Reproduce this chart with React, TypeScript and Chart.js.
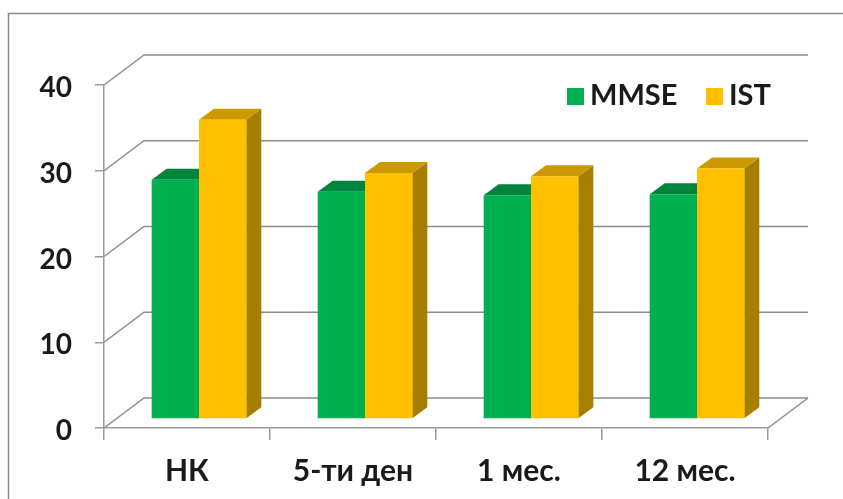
import React, { useEffect, useRef } from "react";
import { Chart, registerables } from "chart.js";

Chart.register(...registerables);

const categories = ["НК", "5-ти ден", "1 мес.", "12 мес."];
const mmseValues = [27.9, 26.5, 26.1, 26.2];
const istValues = [34.9, 28.7, 28.3, 29.2];
const seriesLabels = ["MMSE", "IST"];
const yTicks = [0, 10, 20, 30, 40];

const FRONT = ["#00B050", "#FFC000"];
const TOP = ["#00853D", "#CC9A00"];
const SIDE = ["#00703A", "#A67F00"];

const FONT = "Lato";
const WALL_DX = 40;
const WALL_DY = -30;
const BAR_DX = 12;
const BAR_DY = -9;
const FACE_DX = 15;
const FACE_DY = -11;
const GRID = "#8c8c8c";

const scenePlugin = {
  id: "scene3d",
  beforeDraw(chart: any) {
    const ctx = chart.ctx;
    const { left, right, bottom } = chart.chartArea;
    const y = chart.scales.y;
    ctx.save();
    ctx.fillStyle = "#ffffff";
    ctx.fillRect(0, 0, chart.width, chart.height);
    ctx.strokeStyle = "#8a8a8a";
    ctx.lineWidth = 1.5;
    ctx.strokeRect(8.5, 13.5, chart.width + 20, chart.height + 20);
    ctx.strokeStyle = GRID;
    ctx.lineWidth = 1.5;
    yTicks.forEach((v) => {
      const py = y.getPixelForValue(v);
      ctx.beginPath();
      ctx.moveTo(left, py);
      ctx.lineTo(left + WALL_DX, py + WALL_DY);
      ctx.lineTo(right + WALL_DX, py + WALL_DY);
      ctx.stroke();
    });
    ctx.beginPath();
    ctx.moveTo(right, bottom);
    ctx.lineTo(right + WALL_DX, bottom + WALL_DY);
    ctx.stroke();
    ctx.restore();
  },
  beforeDatasetsDraw(chart: any) {
    const ctx = chart.ctx;
    ctx.save();
    ctx.translate(BAR_DX, BAR_DY);
    const n = chart.data.labels.length;
    for (let c = 0; c < n; c++) {
      for (let i = 0; i < chart.data.datasets.length; i++) {
        const bar: any = chart.getDatasetMeta(i).data[c];
        if (!bar) continue;
        const l = bar.x - bar.width / 2;
        const r = bar.x + bar.width / 2;
        const t = bar.y;
        const b = bar.base;
        ctx.fillStyle = SIDE[i];
        ctx.beginPath();
        ctx.moveTo(r, t);
        ctx.lineTo(r + FACE_DX, t + FACE_DY);
        ctx.lineTo(r + FACE_DX, b + FACE_DY);
        ctx.lineTo(r, b);
        ctx.closePath();
        ctx.fill();
        ctx.fillStyle = TOP[i];
        ctx.beginPath();
        ctx.moveTo(l, t);
        ctx.lineTo(l + FACE_DX, t + FACE_DY);
        ctx.lineTo(r + FACE_DX, t + FACE_DY);
        ctx.lineTo(r, t);
        ctx.closePath();
        ctx.fill();
      }
    }
  },
  afterDatasetsDraw(chart: any) {
    chart.ctx.restore();
  },
  afterDraw(chart: any) {
    const ctx = chart.ctx;
    ctx.save();
    ctx.font = `bold 29px ${FONT}`;
    ctx.textBaseline = "alphabetic";
    ctx.textAlign = "left";
    const legendItems = [
      { x: 567, label: chart.data.datasets[0].label, color: FRONT[0] },
      { x: 706, label: chart.data.datasets[1].label, color: FRONT[1] },
    ];
    legendItems.forEach((it) => {
      ctx.fillStyle = it.color;
      ctx.fillRect(it.x, 88, 17, 17);
      ctx.fillStyle = "#1a1a1a";
      ctx.fillText(it.label, it.x + 23, 105);
    });
    ctx.restore();
  },
};

export default function App() {
  const ref = useRef<HTMLCanvasElement>(null);
  useEffect(() => {
    if (!ref.current) return;
    const chart = new Chart(ref.current, {
      type: "bar",
      data: {
        labels: categories,
        datasets: [
          { label: seriesLabels[0], data: mmseValues, backgroundColor: FRONT[0], borderWidth: 0, clip: false as any },
          { label: seriesLabels[1], data: istValues, backgroundColor: FRONT[1], borderWidth: 0, clip: false as any },
        ],
      },
      options: {
        animation: false,
        responsive: false,
        devicePixelRatio: 1,
        layout: { padding: { top: 85, right: 75, left: 0, bottom: 0 } },
        datasets: { bar: { categoryPercentage: 0.57, barPercentage: 1 } },
        plugins: { legend: { display: false }, tooltip: { enabled: false } },
        scales: {
          x: {
            type: "category",
            offset: true,
            grid: { offset: true, drawOnChartArea: false, drawTicks: true, tickLength: 12, color: "#9a9a9a", lineWidth: 1.5 },
            border: { display: true, color: "#9a9a9a", width: 1.5 },
            ticks: { color: "#1a1a1a", padding: 13, font: { family: FONT, weight: "bold", size: 30 }, maxRotation: 0, autoSkip: false },
            afterFit: (s: any) => { s.height = 71; },
          },
          y: {
            min: 0,
            max: 40,
            ticks: { stepSize: 10, color: "#1a1a1a", padding: 23, labelOffset: 3, font: { family: FONT, weight: "bold", size: 28 } },
            grid: { drawOnChartArea: false, drawTicks: true, tickLength: 9, color: "#9a9a9a", lineWidth: 1.5 },
            border: { display: true, color: "#9a9a9a", width: 1.5 },
            afterFit: (s: any) => { s.width = 104; },
          },
        },
      },
      plugins: [scenePlugin],
    });
    return () => chart.destroy();
  }, []);
  return (
    <div style={{ position: "fixed", left: 0, top: 0, width: 843, height: 499, background: "#fff" }}>
      <canvas ref={ref} width={843} height={499} style={{ display: "block" }} />
    </div>
  );
}
